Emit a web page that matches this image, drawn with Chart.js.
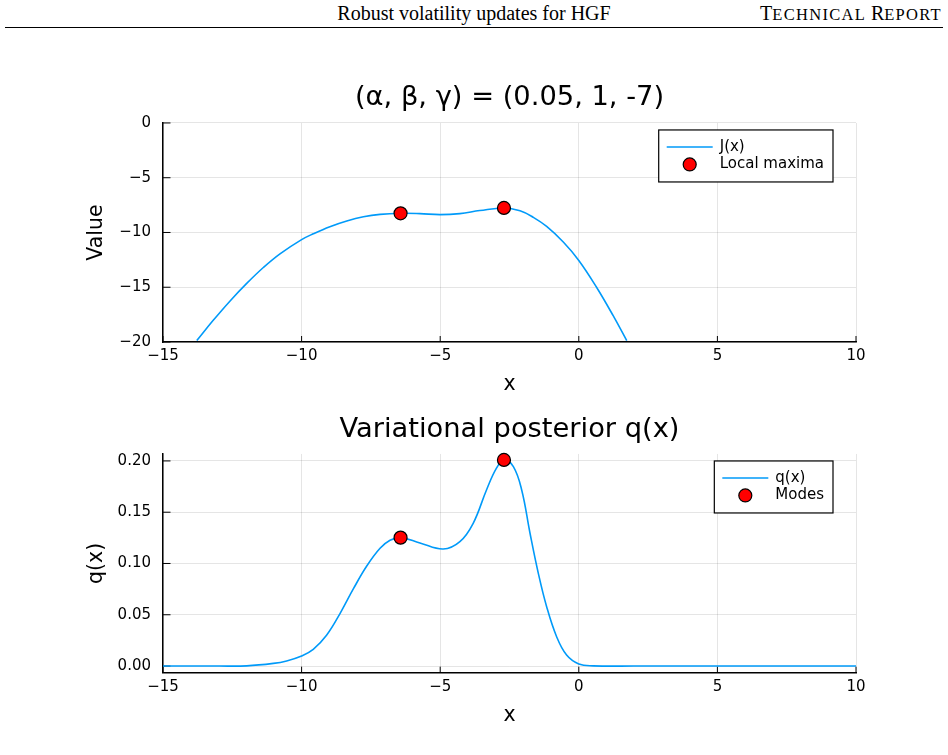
<!DOCTYPE html>
<html>
<head>
<meta charset="utf-8">
<script src="https://cdn.jsdelivr.net/npm/chart.js@4.4.1/dist/chart.umd.min.js"></script>
<style>
  body { margin: 0; background: #fff; width: 948px; height: 755px; overflow: hidden; position: relative; }
  .hdr { position: absolute; top: 3px; font-family: "Liberation Serif", "Times New Roman", serif; font-size: 20px; line-height: 20px; color: #000; }
  #hTitle { left: 0; width: 948px; text-align: center; }
  #hRight { right: 6px; }
  #hRight .sc { font-size: 16.5px; letter-spacing: 1.3px; }
  #rule { position: absolute; left: 5px; right: 5px; top: 27px; border-top: 1.3px solid #000; }
  canvas { position: absolute; left: 0; }
  #chartJ { top: 60px; }
  #chartQ { top: 395px; }
</style>
</head>
<body>
<div class="hdr" id="hTitle">Robust volatility updates for HGF</div>
<div class="hdr" id="hRight">T<span class="sc">ECHNICAL </span>R<span class="sc">EPORT</span></div>
<div id="rule"></div>
<canvas id="chartJ" width="948" height="340"></canvas>
<canvas id="chartQ" width="948" height="340"></canvas>
<script>
// J(x)
const jX = [-13.78, -13.18, -12.58, -11.98, -11.38, -10.78, -10.0, -9.58, -8.98, -8.37, -7.77, -7.17,
            -6.43, -5.73, -5.01, -4.29, -3.57, -2.70, -2.12, -1.64, -1.16, -0.56, 0.0, 0.64, 1.24, 1.73];
const jY = [-19.86, -18.0, -16.25, -14.65, -13.2, -11.95, -10.65, -10.12, -9.47, -8.95, -8.57, -8.35,
            -8.25, -8.28, -8.37, -8.28, -8.0, -7.76, -8.02, -8.62, -9.45, -10.87, -12.55, -15.0, -17.6, -19.88];
const jMaxX = [-6.43, -2.70];
const jMaxY = [-8.25, -7.76];

// q(x)
const qX = [-15, -13, -11.98, -11.02, -10.54, -10.0, -9.58, -9.10, -8.61, -8.13, -7.65, -7.17, -6.81,
            -6.43, -5.73, -4.89, -4.29, -3.81, -3.33, -2.97, -2.70, -2.36, -2.06, -1.76, -1.46, -1.16,
            -0.80, -0.44, 0.0, 0.52, 2, 10];
const qY = [0, 0, 0.0002, 0.0026, 0.005, 0.0098, 0.0163, 0.030, 0.0514, 0.0754, 0.0975, 0.1148, 0.1227,
            0.1252, 0.1200, 0.1141, 0.1213, 0.1392, 0.1717, 0.1929, 0.2010, 0.1944, 0.1717, 0.1295, 0.0904, 0.0579,
            0.0286, 0.0107, 0.002, 0.0002, 0, 0];
const qModeX = [-6.43, -2.70];
const qModeY = [0.1252, 0.2010];

const xTicks = [-15, -10, -5, 0, 5, 10];
const jTicks = [0, -5, -10, -15, -20];
const qTicks = [0, 0.05, 0.10, 0.15, 0.20];

const blue = '#009af9';
Chart.defaults.font.family = '"DejaVu Sans", sans-serif';
Chart.defaults.color = '#000';

const pts = (xs, ys) => xs.map((x, i) => ({ x: x, y: ys[i] }));
const minus = s => String(s).replace('-', '\u2212');

// ticks pointing into the plot, like the GR backend
const innerTicks = {
  id: 'innerTicks',
  beforeDatasetsDraw(chart) {
    const { ctx, chartArea: a, scales: { x, y } } = chart;
    ctx.save();
    ctx.strokeStyle = '#000';
    ctx.lineWidth = 1;
    ctx.beginPath();
    x.ticks.forEach(t => {
      const p = x.getPixelForValue(t.value);
      ctx.moveTo(p, a.bottom); ctx.lineTo(p, a.bottom - 6);
    });
    y.ticks.forEach(t => {
      const p = y.getPixelForValue(t.value);
      ctx.moveTo(a.left, p); ctx.lineTo(a.left + 7.5, p);
    });
    ctx.stroke();
    ctx.restore();
  }
};

// boxed legend in the top right corner of the plot
const boxLegend = {
  id: 'boxLegend',
  afterDraw(chart) {
    const { ctx, chartArea: a } = chart;
    const [line, dots] = chart.data.datasets;
    ctx.save();
    ctx.font = '15px "DejaVu Sans"';
    const w = Math.max(ctx.measureText(line.label).width, ctx.measureText(dots.label).width);
    const bw = 61 + w + 9, bh = 52;
    const x0 = a.right - 23 - bw, y0 = a.top + 7;
    ctx.fillStyle = '#fff';
    ctx.fillRect(x0, y0, bw, bh);
    ctx.strokeStyle = '#000';
    ctx.lineWidth = 1.2;
    ctx.strokeRect(x0, y0, bw, bh);
    ctx.strokeStyle = line.borderColor;
    ctx.lineWidth = line.borderWidth;
    ctx.beginPath();
    ctx.moveTo(x0 + 8, y0 + 17); ctx.lineTo(x0 + 54, y0 + 17);
    ctx.stroke();
    ctx.beginPath();
    ctx.arc(x0 + 31, y0 + 34.5, dots.pointRadius, 0, Math.PI * 2);
    ctx.fillStyle = dots.backgroundColor;
    ctx.fill();
    ctx.strokeStyle = dots.borderColor;
    ctx.lineWidth = dots.borderWidth;
    ctx.stroke();
    ctx.fillStyle = '#000';
    ctx.textBaseline = 'middle';
    ctx.fillText(line.label, x0 + 61, y0 + 17);
    ctx.fillText(dots.label, x0 + 61, y0 + 34.5);
    ctx.restore();
  }
};

function makeChart(id, o) {
  return new Chart(document.getElementById(id), {
    type: 'scatter',
    data: {
      datasets: [{
        label: o.lineLabel,
        data: pts(o.lx, o.ly),
        showLine: true,
        pointRadius: 0,
        borderColor: blue,
        borderWidth: 1.6,
        tension: 0.4,
        order: 1
      }, {
        label: o.dotLabel,
        data: pts(o.dx, o.dy),
        pointRadius: 6.5,
        backgroundColor: '#ff0000',
        borderColor: '#000',
        borderWidth: 1.2,
        clip: false,
        order: 0
      }]
    },
    options: {
      responsive: false,
      animation: false,
      devicePixelRatio: 1,
      layout: { padding: { left: 0, right: 92, top: 0, bottom: 0 } },
      plugins: {
        legend: { display: false },
        tooltip: { enabled: false },
        title: {
          display: true,
          text: o.title,
          fullSize: false,
          color: '#000',
          font: { size: 27.3, weight: 'normal' },
          padding: o.titlePad
        }
      },
      scales: {
        x: {
          type: 'linear',
          min: -15, max: 10,
          afterBuildTicks: s => { s.ticks = xTicks.map(v => ({ value: v })); },
          afterFit: s => { s.height = o.xHeight; },
          ticks: { font: { size: 15 }, padding: 5, maxRotation: 0, callback: v => minus(v) },
          grid: { color: 'rgba(0,0,0,0.1)', lineWidth: 1, drawTicks: false },
          border: { color: '#000', width: 1.5 },
          title: { display: true, text: 'x', font: { size: 20.5 }, padding: { top: 0, bottom: o.xTitlePad } }
        },
        y: {
          min: o.yMin, max: o.yMax,
          afterBuildTicks: s => { s.ticks = o.yTicks.map(v => ({ value: v })); },
          afterFit: s => { s.width = 163; },
          ticks: { font: { size: 15 }, padding: 12, callback: o.yFmt },
          grid: { color: 'rgba(0,0,0,0.1)', lineWidth: 1, drawTicks: false },
          border: { color: '#000', width: 1.5 },
          title: { display: true, text: o.yLabel, font: { size: 20.5 }, padding: { top: 84, bottom: 0 } }
        }
      }
    },
    plugins: [innerTicks, boxLegend]
  });
}

makeChart('chartJ', {
  title: '(\u03b1, \u03b2, \u03b3) = (0.05, 1, -7)',
  titlePad: { top: 21.4, bottom: 8.8 },
  lineLabel: 'J(x)', dotLabel: 'Local maxima',
  lx: jX, ly: jY, dx: jMaxX, dy: jMaxY,
  yMin: -20, yMax: 0, yTicks: jTicks, yFmt: v => minus(v),
  yLabel: 'Value', xHeight: 58, xTitlePad: 3.1
});

makeChart('chartQ', {
  title: 'Variational posterior q(x)',
  titlePad: { top: 18.6, bottom: 7.6 },
  lineLabel: 'q(x)', dotLabel: 'Modes',
  lx: qX, ly: qY, dx: qModeX, dy: qModeY,
  yMin: -0.0065, yMax: 0.2068, yTicks: qTicks, yFmt: v => Number(v).toFixed(2),
  yLabel: 'q(x)', xHeight: 62.3, xTitlePad: 6.6
});
</script>
</body>
</html>
